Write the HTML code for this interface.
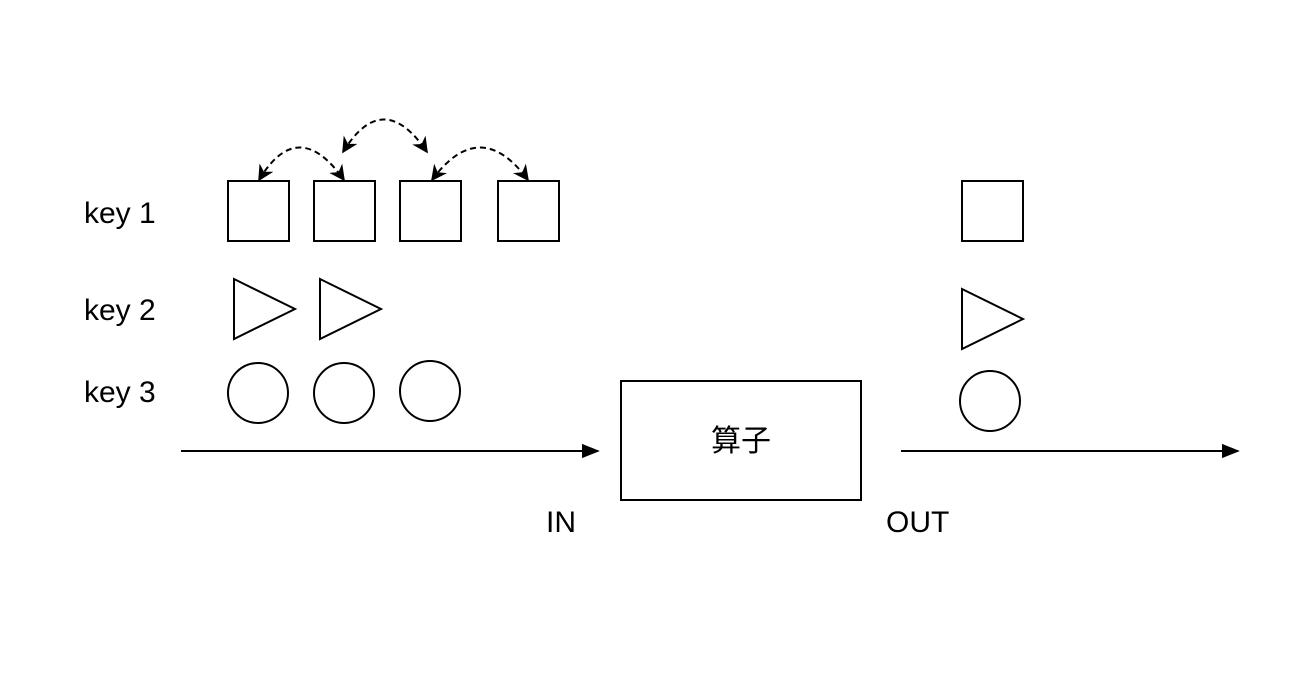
<!DOCTYPE html>
<html><head><meta charset="utf-8"><style>body{margin:0;background:#fff}</style></head><body>
<svg width="1302" height="682" xmlns="http://www.w3.org/2000/svg" style="display:block">
<defs>
<marker id="a" viewBox="0 0 10 10" refX="9" refY="5" markerWidth="8" markerHeight="8" orient="auto-start-reverse"><path d="M0,0 L10,5 L0,10 L3,5 Z" fill="#000"/></marker>
<marker id="b" viewBox="0 0 10 10" refX="9" refY="5" markerWidth="9" markerHeight="9" orient="auto"><path d="M0,1 L10,5 L0,9 Z" fill="#000"/></marker>
</defs>
<g font-family="Liberation Sans, sans-serif" font-size="30" fill="#000">
<text x="84" y="223">key 1</text>
<text x="84" y="320">key 2</text>
<text x="84" y="402">key 3</text>
<text x="546" y="532">IN</text>
<text x="886" y="532">OUT</text>
</g>
<g fill="#fff" stroke="#000" stroke-width="2">
<rect x="228" y="181" width="61" height="60"/>
<rect x="314" y="181" width="61" height="60"/>
<rect x="400" y="181" width="61" height="60"/>
<rect x="498" y="181" width="61" height="60"/>
<rect x="962" y="181" width="61" height="60"/>
<polygon points="234,279 295,309 234,339"/>
<polygon points="320,279 381,309 320,339"/>
<polygon points="962,289 1023,319 962,349"/>
<circle cx="258" cy="393" r="30"/>
<circle cx="344" cy="393" r="30"/>
<circle cx="430" cy="391" r="30"/>
<circle cx="990" cy="401" r="30"/>
<rect x="621" y="381" width="240" height="119"/>
</g>
<g fill="none" stroke="#000" stroke-width="2" stroke-dasharray="6,4">
<path d="M259,180 Q298,115 344,180" marker-start="url(#a)" marker-end="url(#a)"/>
<path d="M343,152 Q383,87 427,152" marker-start="url(#a)" marker-end="url(#a)"/>
<path d="M432,180 Q480,115 528,180" marker-start="url(#a)" marker-end="url(#a)"/>
</g>
<g stroke="#000" stroke-width="2">
<line x1="181" y1="451" x2="598" y2="451" marker-end="url(#b)"/>
<line x1="901" y1="451" x2="1238" y2="451" marker-end="url(#b)"/>
</g>
<text x="741" y="451" text-anchor="middle" font-family="Liberation Sans, Noto Sans CJK SC, sans-serif" font-size="30">算子</text>
</svg>
</body></html>
